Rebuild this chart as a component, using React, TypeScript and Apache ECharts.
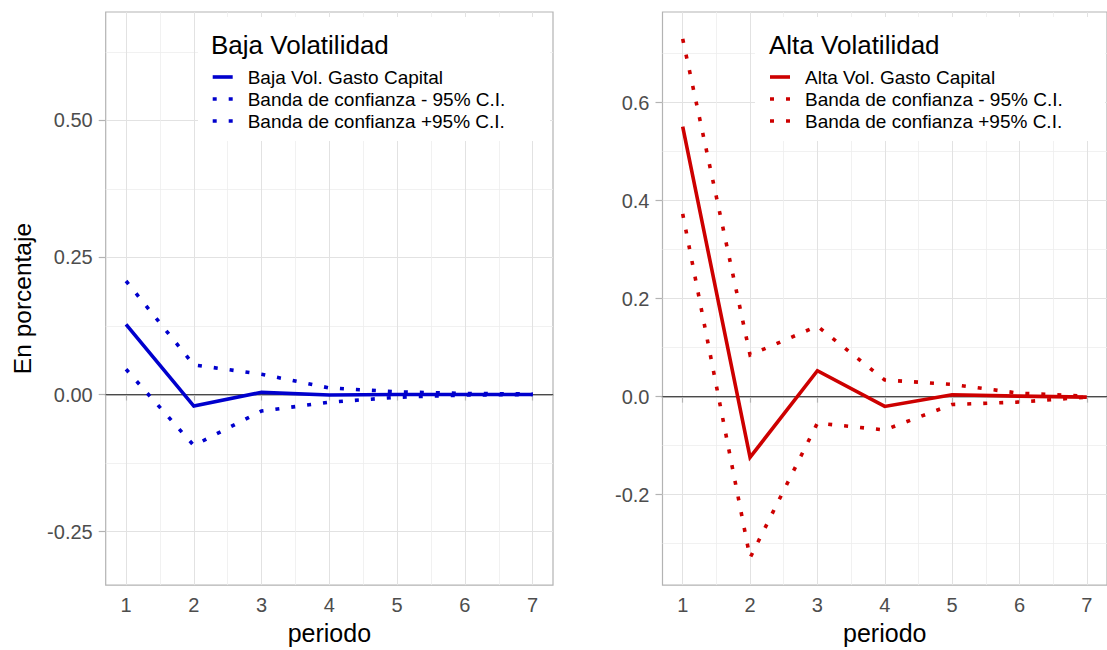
import React, { useEffect, useRef } from "react";
import * as echarts from "echarts";

// ---- data ----
const periods = [1, 2, 3, 4, 5, 6, 7];

const bajaIrf = [0.128, -0.021, 0.004, -0.001, 0.0, 0.0, 0.0];
const bajaLower = [0.046, -0.093, -0.03, -0.014, -0.005, -0.001, 0.0];
const bajaUpper = [0.207, 0.054, 0.037, 0.012, 0.005, 0.002, 0.001];

const altaIrf = [0.551, -0.124, 0.053, -0.02, 0.004, 0.001, -0.001];
const altaLower = [0.373, -0.329, -0.054, -0.068, -0.016, -0.011, -0.001];
const altaUpper = [0.73, 0.085, 0.144, 0.034, 0.025, 0.007, 0.001];

const xMajor = [1, 2, 3, 4, 5, 6, 7];
const xMinor = [1.5, 2.5, 3.5, 4.5, 5.5, 6.5];
const bajaYMajor = [-0.25, 0, 0.25, 0.5];
const bajaYMinor = [-0.125, 0.125, 0.375, 0.625];
const altaYMajor = [-0.2, 0, 0.2, 0.4, 0.6];
const altaYMinor = [-0.3, -0.1, 0.1, 0.3, 0.5, 0.7];

const bajaTitle = "Baja Volatilidad";
const altaTitle = "Alta Volatilidad";
const bajaNames = ["Baja Vol. Gasto Capital", "Banda de confianza - 95% C.I.", "Banda de confianza +95% C.I."];
const altaNames = ["Alta Vol. Gasto Capital", "Banda de confianza - 95% C.I.", "Banda de confianza +95% C.I."];
const xTitle = "periodo";
const yTitle = "En porcentaje";

// ---- styles ----
const FONT = "'Liberation Sans', Arial, sans-serif";
const BLUE = "#0000CD";
const RED = "#CD0000";
const BORDER = "#b3b3b3";
const GRID_MAJOR = "#e2e2e2";
const GRID_MINOR = "#ededed";
const LABEL = "#4d4d4d";
const DOT = [4, 12];
const LW = 3.6;

const pairs = (vals: number[]) => periods.map((p, i) => [p, vals[i]]);

function majorX(gridIndex: number, withName: boolean) {
  return {
    gridIndex,
    type: "value",
    min: 0.7,
    max: 7.3,
    position: "bottom",
    axisLine: { show: true, lineStyle: { color: BORDER, width: 2 } },
    axisTick: { show: true, length: 6, customValues: xMajor, lineStyle: { color: BORDER, width: 1.2 } },
    axisLabel: { customValues: xMajor, margin: 10, fontSize: 20, color: LABEL, fontFamily: FONT },
    splitLine: { show: true, lineStyle: { color: GRID_MAJOR, width: 1 } },
    name: withName ? xTitle : "",
    nameLocation: "middle",
    nameGap: 34,
    nameTextStyle: { fontSize: 25, color: "#000", fontFamily: FONT },
  };
}
function minorX(gridIndex: number) {
  return {
    gridIndex,
    type: "value",
    min: 0.7,
    max: 7.3,
    position: "top",
    axisLine: { show: false },
    axisTick: { show: false, customValues: xMinor },
    axisLabel: { show: false, customValues: xMinor },
    splitLine: { show: true, lineStyle: { color: GRID_MINOR, width: 0.8 } },
  };
}
function majorY(gridIndex: number, min: number, max: number, ticks: number[], digits: number, withName: boolean) {
  return {
    gridIndex,
    type: "value",
    min,
    max,
    position: "left",
    axisLine: { show: false },
    axisTick: { show: true, length: 7, customValues: ticks, lineStyle: { color: BORDER, width: 1.2 } },
    axisLabel: {
      customValues: ticks,
      margin: 13,
      fontSize: 20,
      color: LABEL,
      fontFamily: FONT,
      formatter: (v: number) => v.toFixed(digits),
    },
    splitLine: { show: true, lineStyle: { color: GRID_MAJOR, width: 1 } },
    name: withName ? yTitle : "",
    nameLocation: "middle",
    nameGap: 71,
    nameTextStyle: { fontSize: 24.5, color: "#000", fontFamily: FONT },
  };
}
function minorY(gridIndex: number, min: number, max: number, ticks: number[]) {
  return {
    gridIndex,
    type: "value",
    min,
    max,
    position: "right",
    axisLine: { show: false },
    axisTick: { show: false, customValues: ticks },
    axisLabel: { show: false, customValues: ticks },
    splitLine: { show: true, lineStyle: { color: GRID_MINOR, width: 0.8 } },
  };
}

function lineSeries(name: string, vals: number[], color: string, dotted: boolean, xi: number, yi: number, zero: boolean) {
  const s: any = {
    name,
    type: "line",
    xAxisIndex: xi,
    yAxisIndex: yi,
    data: pairs(vals),
    symbol: "none",
    z: 3,
    lineStyle: { color, width: LW, type: dotted ? DOT : "solid", cap: "butt", join: "miter" },
  };
  if (zero) {
    s.markLine = {
      silent: true,
      symbol: "none",
      label: { show: false },
      lineStyle: { color: "#4a4a4a", width: 1.1, type: "solid" },
      data: [{ yAxis: 0 }],
      z: 2,
    };
  }
  return s;
}

function legendGraphic(
  box: { x: number; y: number; w: number; h: number },
  titleX: number,
  keyX: number,
  title: string,
  names: string[],
  color: string
) {
  const rows = [77, 99, 121];
  const els: any[] = [
    { type: "rect", shape: { x: box.x, y: box.y, width: box.w, height: box.h }, style: { fill: "#ffffff" }, z: 10, silent: true },
    {
      type: "text",
      z: 11,
      style: {
        text: title,
        x: titleX,
        y: 44.5,
        fontSize: 26,
        lineHeight: 26,
        fontFamily: FONT,
        fill: "#000",
        verticalAlign: "middle",
        align: "left",
      },
    },
  ];
  names.forEach((n, i) => {
    els.push({
      type: "line",
      z: 11,
      shape: { x1: keyX, y1: rows[i], x2: keyX + 20, y2: rows[i] },
      style: { stroke: color, lineWidth: LW, lineDash: i === 0 ? null : DOT, lineCap: "butt" },
    });
    els.push({
      type: "text",
      z: 11,
      style: {
        text: n,
        x: keyX + 35,
        y: rows[i],
        fontSize: 19,
        lineHeight: 19,
        fontFamily: FONT,
        fill: "#000",
        verticalAlign: "middle",
        align: "left",
      },
    });
  });
  return els;
}

export default function App() {
  const ref = useRef<HTMLDivElement>(null);
  useEffect(() => {
    if (!ref.current) return;
    const chart = echarts.init(ref.current, null, { renderer: "svg" });
    const option: any = {
      animation: false,
      backgroundColor: "#ffffff",
      textStyle: { fontFamily: FONT },
      grid: [
        { left: 105.7, top: 12, width: 447.3, height: 577, show: true, borderColor: BORDER, borderWidth: 1.2, backgroundColor: "transparent" },
        { left: 662.5, top: 12, width: 447.3, height: 577, show: true, borderColor: BORDER, borderWidth: 1.2, backgroundColor: "transparent" },
      ],
      xAxis: [majorX(0, true), minorX(0), majorX(1, true), minorX(1)],
      yAxis: [
        majorY(0, -0.3475, 0.6975, bajaYMajor, 2, true),
        minorY(0, -0.3475, 0.6975, bajaYMinor),
        majorY(1, -0.3846, 0.785, altaYMajor, 1, false),
        minorY(1, -0.3846, 0.785, altaYMinor),
      ],
      series: [
        lineSeries(bajaNames[0], bajaIrf, BLUE, false, 0, 0, true),
        lineSeries(bajaNames[1], bajaLower, BLUE, true, 0, 0, false),
        lineSeries(bajaNames[2], bajaUpper, BLUE, true, 0, 0, false),
        lineSeries(altaNames[0], altaIrf, RED, false, 2, 2, true),
        lineSeries(altaNames[1], altaLower, RED, true, 2, 2, false),
        lineSeries(altaNames[2], altaUpper, RED, true, 2, 2, false),
      ],
      graphic: [
        ...legendGraphic({ x: 198, y: 17, w: 352, h: 124 }, 211, 212.7, bajaTitle, bajaNames, BLUE),
        ...legendGraphic({ x: 755, y: 17, w: 350, h: 124 }, 769, 770, altaTitle, altaNames, RED),
      ],
    };
    chart.setOption(option);
    return () => chart.dispose();
  }, []);
  return (
    <div
      ref={ref}
      style={{ position: "absolute", left: 0, top: 0, width: 1107, height: 650, background: "#ffffff", overflow: "hidden" }}
    />
  );
}
